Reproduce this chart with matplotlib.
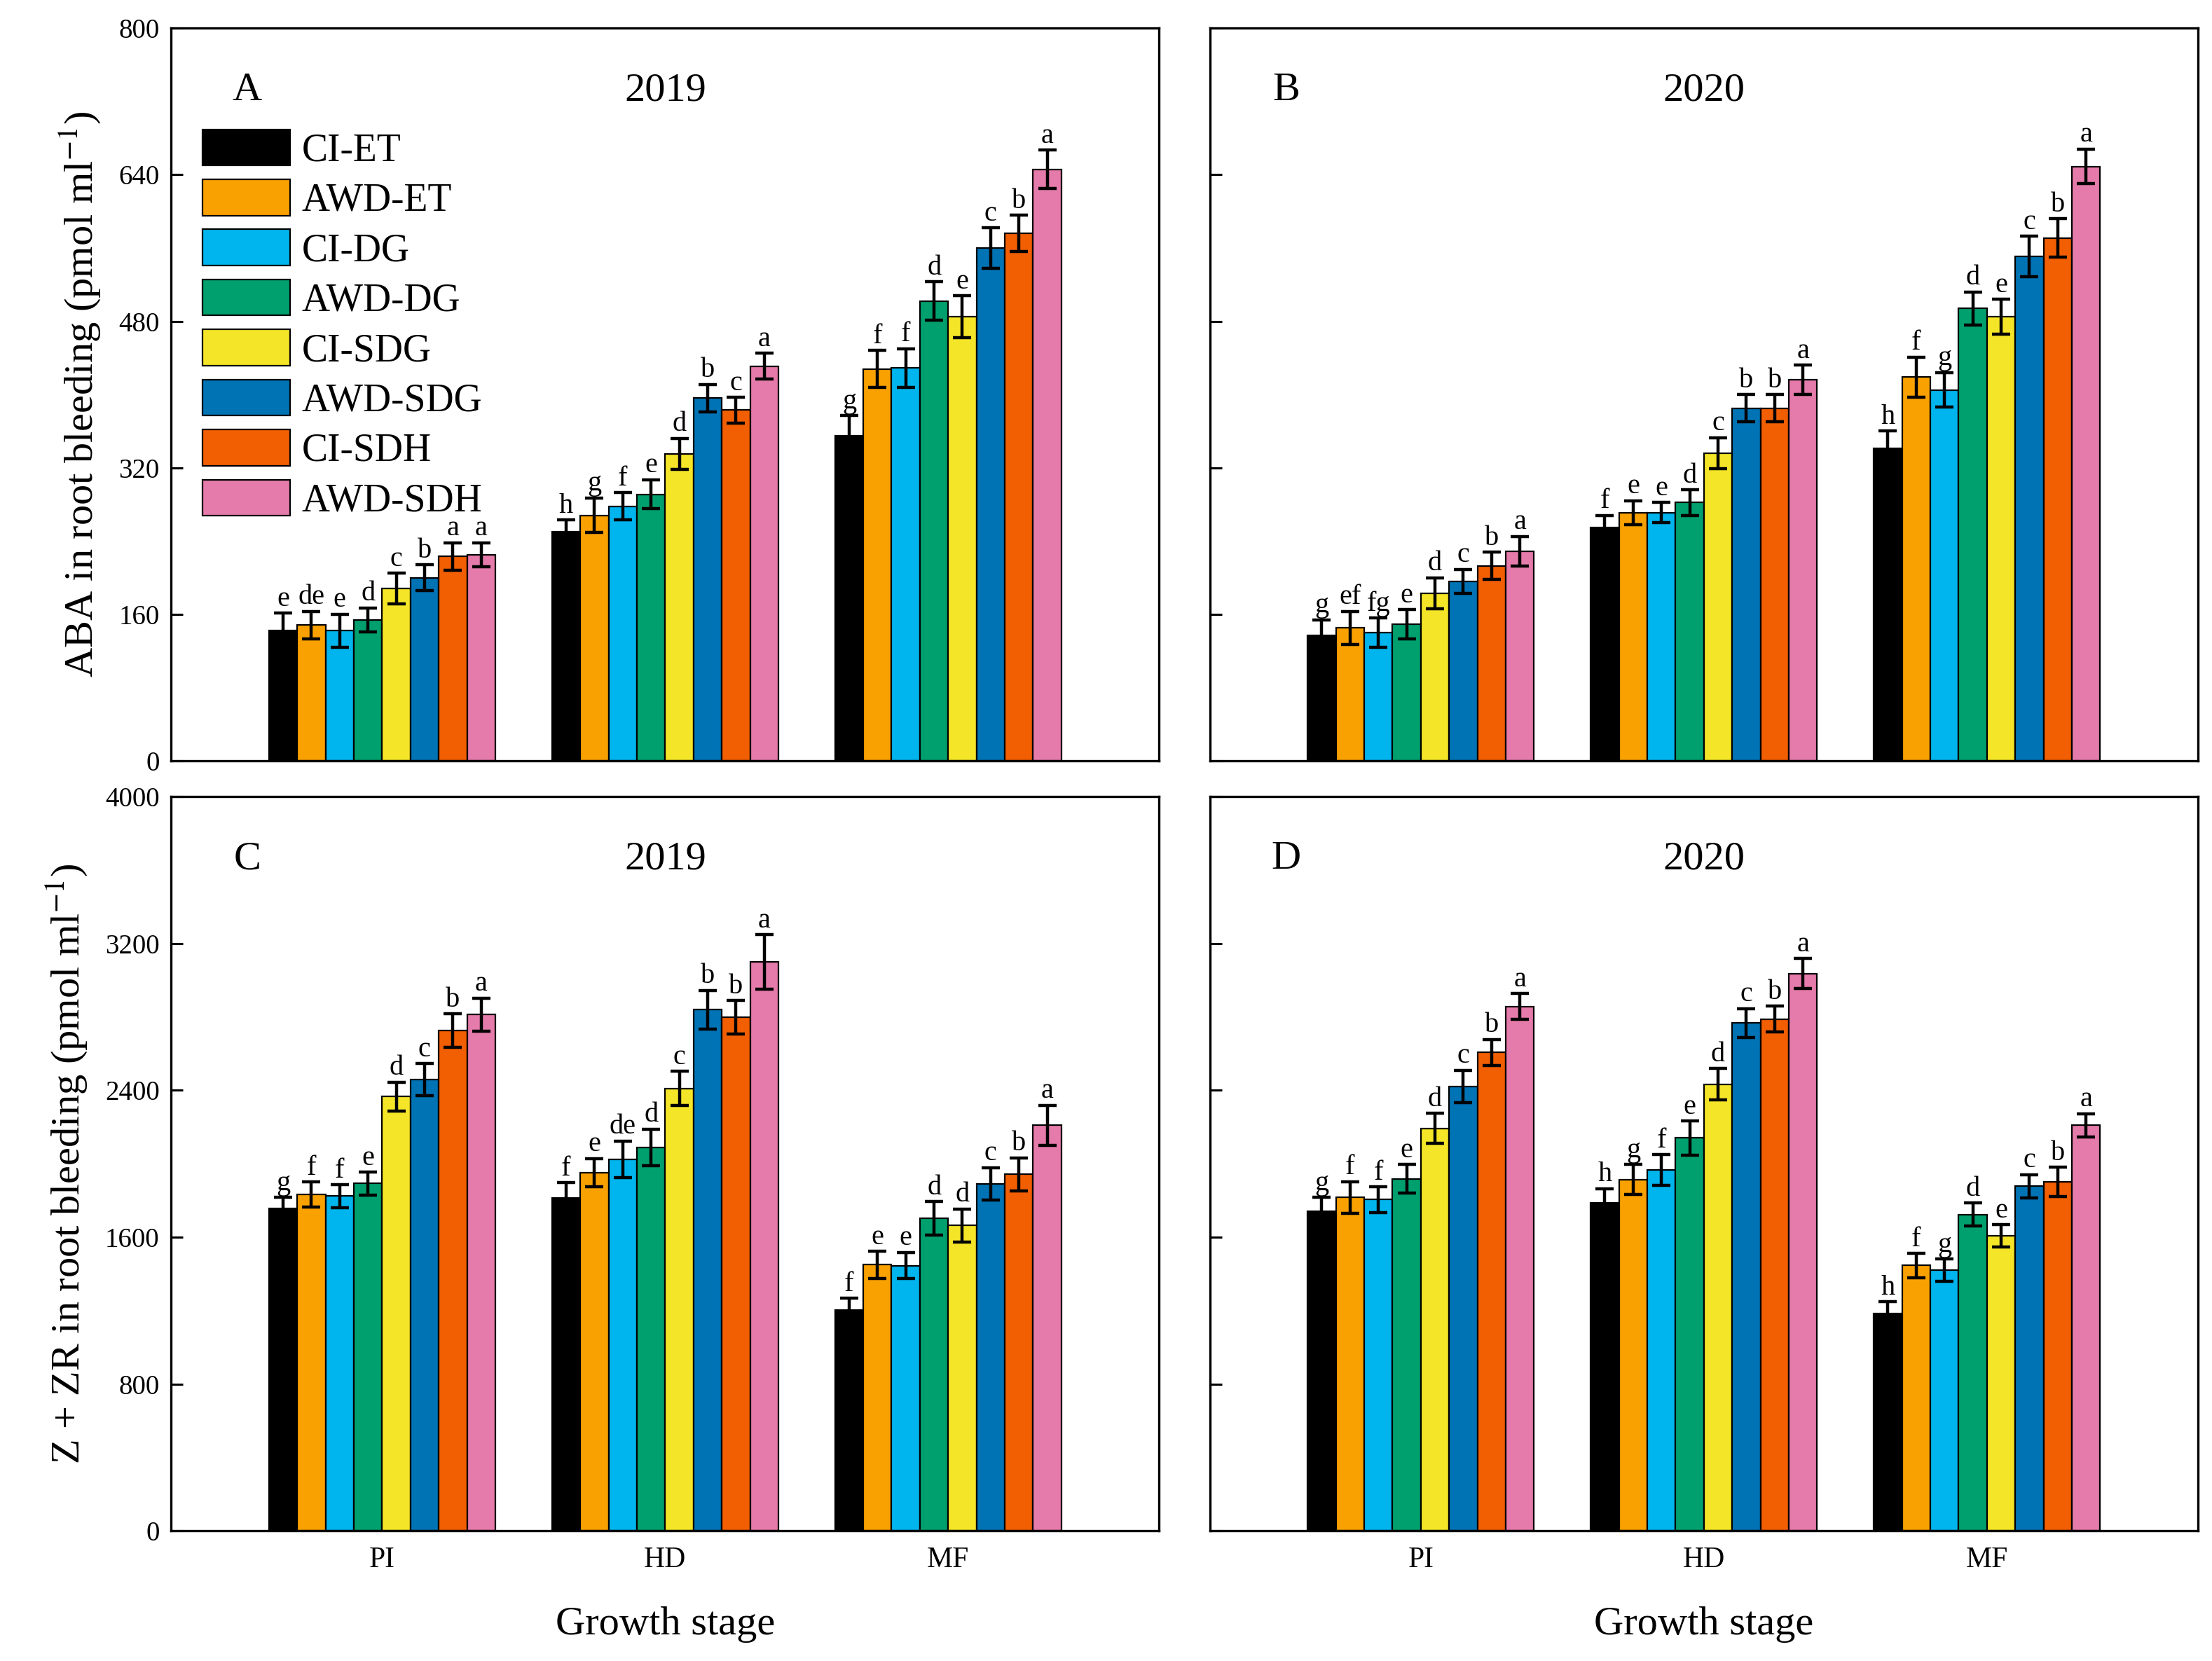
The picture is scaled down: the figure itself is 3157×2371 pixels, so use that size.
import numpy as np
import matplotlib
matplotlib.use("Agg")
import matplotlib.pyplot as plt
from matplotlib.patches import Patch

plt.rcParams['font.family'] = ['Liberation Serif', 'DejaVu Serif']
plt.rcParams['mathtext.fontset'] = 'stix'

stages = ['PI', 'HD', 'MF']
treatments = ['CI-ET', 'AWD-ET', 'CI-DG', 'AWD-DG', 'CI-SDG', 'AWD-SDG', 'CI-SDH', 'AWD-SDH']
colors = ['#000000', '#F9A100', '#00B5EE', '#00A06E', '#F4E528', '#0073B5', '#F25E02', '#E57BAA']

# ABA, 2019 (panel A) - rows = stages, cols = treatments
aba_2019 = [[142, 148, 142, 154, 188, 200, 223, 225],
            [250, 268, 278, 291, 335, 396, 383, 431],
            [355, 428, 429, 502, 485, 560, 576, 646]]
aba_2019_err = [[19, 15, 18, 13, 17, 14, 15, 13],
                [13, 19, 15, 16, 17, 15, 14, 14],
                [22, 20, 21, 21, 23, 22, 20, 21]]
aba_2019_sig = [['e', 'de', 'e', 'd', 'c', 'b', 'a', 'a'],
                ['h', 'g', 'f', 'e', 'd', 'b', 'c', 'a'],
                ['g', 'f', 'f', 'd', 'e', 'c', 'b', 'a']]

# ABA, 2020 (panel B)
aba_2020 = [[137, 145, 140, 149, 183, 196, 213, 229],
            [255, 271, 271, 282, 336, 385, 385, 416],
            [341, 419, 405, 494, 485, 551, 571, 649]]
aba_2020_err = [[17, 18, 16, 16, 17, 13, 15, 16],
                [13, 13, 11, 14, 17, 15, 15, 16],
                [19, 22, 19, 18, 19, 22, 21, 19]]
aba_2020_sig = [['g', 'ef', 'fg', 'e', 'd', 'c', 'b', 'a'],
                ['f', 'e', 'e', 'd', 'c', 'b', 'b', 'a'],
                ['h', 'f', 'g', 'd', 'e', 'c', 'b', 'a']]

# Z + ZR, 2019 (panel C)
zr_2019 = [[1756, 1832, 1823, 1892, 2365, 2459, 2725, 2812],
           [1814, 1951, 2025, 2089, 2410, 2839, 2797, 3100],
           [1201, 1449, 1445, 1702, 1663, 1891, 1942, 2209]]
zr_2019_err = [[60, 69, 62, 62, 80, 87, 91, 91],
               [83, 78, 99, 99, 94, 105, 92, 149],
               [67, 74, 72, 91, 90, 88, 90, 109]]
zr_2019_sig = [['g', 'f', 'f', 'e', 'd', 'c', 'b', 'a'],
               ['f', 'e', 'de', 'd', 'c', 'b', 'b', 'a'],
               ['f', 'e', 'e', 'd', 'd', 'c', 'b', 'a']]

# Z + ZR, 2020 (panel D)
zr_2020 = [[1741, 1817, 1804, 1918, 2192, 2421, 2606, 2857],
           [1787, 1914, 1967, 2140, 2432, 2766, 2788, 3036],
           [1184, 1446, 1419, 1723, 1607, 1877, 1900, 2210]]
zr_2020_err = [[75, 86, 69, 78, 82, 88, 71, 71],
               [77, 81, 83, 92, 86, 79, 70, 83],
               [63, 66, 61, 63, 61, 63, 80, 63]]
zr_2020_sig = [['g', 'f', 'f', 'e', 'd', 'c', 'b', 'a'],
               ['h', 'g', 'f', 'e', 'd', 'c', 'b', 'a'],
               ['h', 'f', 'g', 'd', 'e', 'c', 'b', 'a']]

panels = [
    ('A', '2019', aba_2019, aba_2019_err, aba_2019_sig),
    ('B', '2020', aba_2020, aba_2020_err, aba_2020_sig),
    ('C', '2019', zr_2019, zr_2019_err, zr_2019_sig),
    ('D', '2020', zr_2020, zr_2020_err, zr_2020_sig),
]

fig = plt.figure(figsize=(15.785, 11.855), dpi=200)
# axes rectangles [left, bottom, width, height]
rects = [[0.0774, 0.542, 0.4466, 0.441],
         [0.547, 0.542, 0.4466, 0.441],
         [0.0774, 0.0784, 0.4466, 0.442],
         [0.547, 0.0784, 0.4466, 0.442]]

width = 0.1
x = np.arange(len(stages))

for k, (letter, year, vals, errs, sigs) in enumerate(panels):
    ax = fig.add_axes(rects[k])
    vals = np.array(vals)
    errs = np.array(errs)
    for i, name in enumerate(treatments):
        pos = x + (i - 3.5) * width
        ax.bar(pos, vals[:, i], width, color=colors[i], edgecolor='black',
               linewidth=0.8, label=name, zorder=2)
        ax.errorbar(pos, vals[:, i], yerr=errs[:, i], fmt='none', ecolor='black',
                    elinewidth=1.6, capsize=4.8, capthick=1.6, zorder=3)
        for j in range(len(stages)):
            ax.annotate(sigs[j][i], (pos[j], vals[j, i] + errs[j, i]),
                        xytext=(0, 0.5), textcoords='offset points',
                        ha='center', va='bottom', fontsize=14.5)

    ax.set_xlim(-0.745, 2.745)
    if k < 2:
        ax.set_ylim(0, 800)
        ax.set_yticks(np.arange(0, 801, 160))
    else:
        ax.set_ylim(0, 4000)
        ax.set_yticks(np.arange(0, 4001, 800))
    ax.set_xticks(x)
    ax.tick_params(axis='x', length=0, pad=8, labelsize=15)
    ax.tick_params(axis='y', direction='in', length=6, width=1.1, labelsize=14, pad=6)
    if k < 2:
        ax.set_xticklabels([])
    else:
        ax.set_xticklabels(stages)
        ax.set_xlabel('Growth stage', fontsize=21, labelpad=17)
    if k % 2 == 1:
        ax.set_yticklabels([])
    for sp in ax.spines.values():
        sp.set_linewidth(1.2)

    ax.text(0.077, 0.915, letter, transform=ax.transAxes, fontsize=21,
            ha='center', va='center')
    ax.text(0.5, 0.915, year, transform=ax.transAxes, fontsize=21,
            ha='center', va='center')

    if k == 0:
        ax.set_ylabel('ABA in root bleeding (pmol ml$^{-1}$)', fontsize=21, labelpad=8)
        handles = [Patch(facecolor=c, edgecolor='black', linewidth=0.8) for c in colors]
        ax.legend(handles, treatments, loc='upper left', bbox_to_anchor=(0.0315, 0.862),
                  frameon=False, fontsize=20, handlelength=2.25, handleheight=1.05,
                  handletextpad=0.3, labelspacing=0.265, borderpad=0, borderaxespad=0)
    if k == 2:
        ax.set_ylabel('Z + ZR in root bleeding (pmol ml$^{-1}$)', fontsize=21, labelpad=8)

fig.savefig('out.png', dpi=200)
